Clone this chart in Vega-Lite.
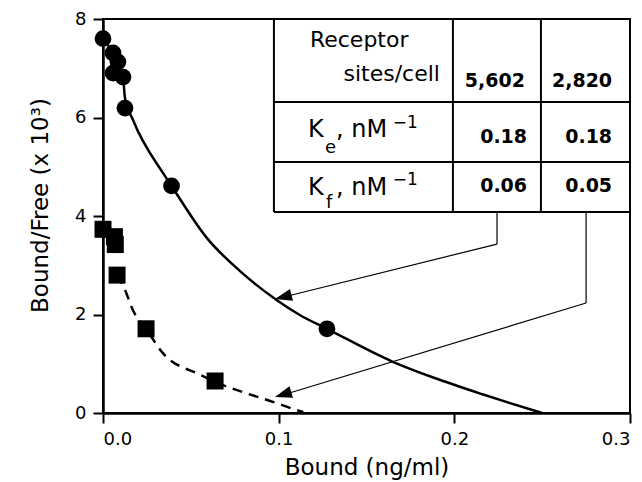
{
  "$schema": "https://vega.github.io/schema/vega-lite/v6.json",
  "width": 527,
  "height": 394,
  "autosize": {"type": "none"},
  "padding": {"left": 103, "top": 19, "right": 12, "bottom": 69},
  "background": "white",
  "config": {
    "view": {"stroke": "black", "strokeWidth": 2},
    "font": "DejaVu Sans",
    "axis": {
      "domainColor": "black", "domainWidth": 2.5,
      "tickColor": "black", "tickWidth": 2, "tickSize": 10,
      "labelFont": "DejaVu Sans", "labelFontSize": 18, "labelColor": "black",
      "titleFont": "DejaVu Sans", "titleFontSize": 23, "titleFontWeight": "normal", "titleColor": "black",
      "grid": false
    }
  },
  "datasets": {
    "circles": [
      {"bound": 0.0, "bf": 7.6},
      {"bound": 0.0057, "bf": 7.31},
      {"bound": 0.0085, "bf": 7.13},
      {"bound": 0.0057, "bf": 6.9},
      {"bound": 0.0114, "bf": 6.82},
      {"bound": 0.0125, "bf": 6.19},
      {"bound": 0.039, "bf": 4.61},
      {"bound": 0.1275, "bf": 1.71}
    ],
    "squares": [
      {"bound": 0.0, "bf": 3.73},
      {"bound": 0.0065, "bf": 3.58},
      {"bound": 0.007, "bf": 3.42},
      {"bound": 0.008, "bf": 2.8},
      {"bound": 0.0245, "bf": 1.71},
      {"bound": 0.0638, "bf": 0.65}
    ],
    "solidcurve": [
      {"bound": 0.0, "bf": 7.6},
      {"bound": 0.0057, "bf": 7.31},
      {"bound": 0.0114, "bf": 6.82},
      {"bound": 0.0125, "bf": 6.4},
      {"bound": 0.0171, "bf": 5.95},
      {"bound": 0.0342, "bf": 4.87},
      {"bound": 0.039, "bf": 4.61},
      {"bound": 0.0592, "bf": 3.55},
      {"bound": 0.079, "bf": 2.85},
      {"bound": 0.099, "bf": 2.29},
      {"bound": 0.112, "bf": 1.99},
      {"bound": 0.1275, "bf": 1.71},
      {"bound": 0.165, "bf": 1.04},
      {"bound": 0.188, "bf": 0.72},
      {"bound": 0.216, "bf": 0.38},
      {"bound": 0.23, "bf": 0.22},
      {"bound": 0.25, "bf": 0.0}
    ],
    "dashedcurve": [
      {"bound": 0.008, "bf": 2.8},
      {"bound": 0.0125, "bf": 2.5},
      {"bound": 0.017, "bf": 2.09},
      {"bound": 0.0245, "bf": 1.71},
      {"bound": 0.034, "bf": 1.22},
      {"bound": 0.055, "bf": 0.78},
      {"bound": 0.0638, "bf": 0.63},
      {"bound": 0.08, "bf": 0.42},
      {"bound": 0.099, "bf": 0.2},
      {"bound": 0.11, "bf": 0.06},
      {"bound": 0.114, "bf": 0.02}
    ],
    "lines": [
      {"x": 0.0973, "x2": 0.0973, "y": 8, "y2": 4.081},
      {"x": 0.1992, "x2": 0.1992, "y": 8, "y2": 4.081},
      {"x": 0.2493, "x2": 0.2493, "y": 8, "y2": 4.081},
      {"x": 0.0973, "x2": 0.3, "y": 6.315, "y2": 6.315},
      {"x": 0.0973, "x2": 0.3, "y": 5.097, "y2": 5.097},
      {"x": 0.0973, "x2": 0.3, "y": 4.081, "y2": 4.081}
    ],
    "arrowlines": [
      {"x": 0.2243, "x2": 0.2243, "y": 4.081, "y2": 3.43},
      {"x": 0.2243, "x2": 0.1, "y": 3.43, "y2": 2.33},
      {"x": 0.275, "x2": 0.275, "y": 4.081, "y2": 2.233},
      {"x": 0.275, "x2": 0.1, "y": 2.233, "y2": 0.34}
    ],
    "tip1": [{"x": 0.0979, "y": 2.315}],
    "tip2": [{"x": 0.0979, "y": 0.325}],
    "leftText": [
      {"label": "Receptor", "x": 0.1178, "y": 7.432}
    ],
    "rightText": [
      {"label": "sites/cell", "x": 0.1918, "y": 6.741}
    ],
    "numbers": [
      {"label": "5,602", "x": 0.2402, "y": 6.619},
      {"label": "2,820", "x": 0.2898, "y": 6.619},
      {"label": "0.18", "x": 0.2414, "y": 5.482},
      {"label": "0.18", "x": 0.2898, "y": 5.482},
      {"label": "0.06", "x": 0.2414, "y": 4.487},
      {"label": "0.05", "x": 0.2898, "y": 4.487}
    ],
    "kText": [
      {"label": "K", "x": 0.1167, "y": 5.604},
      {"label": ", nM", "x": 0.1327, "y": 5.604},
      {"label": "K", "x": 0.1167, "y": 4.426},
      {"label": ", nM", "x": 0.1327, "y": 4.426}
    ],
    "subText": [
      {"label": "e", "x": 0.1264, "y": 5.279},
      {"label": "f", "x": 0.1270, "y": 4.162}
    ],
    "supText": [
      {"label": "−1", "x": 0.1650, "y": 5.787},
      {"label": "−1", "x": 0.1650, "y": 4.629}
    ]
  },
  "layer": [
    {
      "data": {"name": "lines"},
      "mark": {"type": "rule", "color": "black", "strokeWidth": 2},
      "encoding": {
        "x": {"field": "x", "type": "quantitative", "scale": {"domain": [0, 0.3], "nice": false},
              "axis": {"values": [0, 0.1, 0.2, 0.3], "format": ".1f", "title": "Bound (ng/ml)", "labelFontSize": 18, "labelPadding": 7, "titlePadding": 8}},
        "x2": {"field": "x2"},
        "y": {"field": "y", "type": "quantitative", "scale": {"domain": [0, 8], "nice": false},
              "axis": {"values": [0, 2, 4, 6, 8], "format": "d", "title": "Bound/Free (x 10³)", "labelFontSize": 18, "labelPadding": 7, "titlePadding": 22, "titleY": 186}},
        "y2": {"field": "y2"}
      }
    },
    {
      "data": {"name": "arrowlines"},
      "mark": {"type": "rule", "color": "black", "strokeWidth": 1.2},
      "encoding": {
        "x": {"field": "x", "type": "quantitative"},
        "x2": {"field": "x2"},
        "y": {"field": "y", "type": "quantitative"},
        "y2": {"field": "y2"}
      }
    },
    {
      "data": {"name": "solidcurve"},
      "mark": {"type": "line", "color": "black", "strokeWidth": 2.5, "interpolate": "monotone"},
      "encoding": {
        "x": {"field": "bound", "type": "quantitative"},
        "y": {"field": "bf", "type": "quantitative"}
      }
    },
    {
      "data": {"name": "dashedcurve"},
      "mark": {"type": "line", "color": "black", "strokeWidth": 2.5, "strokeDash": [10, 7], "interpolate": "monotone"},
      "encoding": {
        "x": {"field": "bound", "type": "quantitative"},
        "y": {"field": "bf", "type": "quantitative"}
      }
    },
    {
      "data": {"name": "circles"},
      "mark": {"type": "point", "shape": "circle", "filled": true, "color": "black", "size": 280, "opacity": 1},
      "encoding": {
        "x": {"field": "bound", "type": "quantitative"},
        "y": {"field": "bf", "type": "quantitative"}
      }
    },
    {
      "data": {"name": "squares"},
      "mark": {"type": "point", "shape": "square", "filled": true, "color": "black", "size": 289, "opacity": 1},
      "encoding": {
        "x": {"field": "bound", "type": "quantitative"},
        "y": {"field": "bf", "type": "quantitative"}
      }
    },
    {
      "data": {"name": "tip1"},
      "mark": {"type": "point", "shape": "M0,0L0.6,1.7L-0.6,1.7Z", "filled": true, "color": "black", "size": 400, "opacity": 1, "angle": 256},
      "encoding": {
        "x": {"field": "x", "type": "quantitative"},
        "y": {"field": "y", "type": "quantitative"}
      }
    },
    {
      "data": {"name": "tip2"},
      "mark": {"type": "point", "shape": "M0,0L0.6,1.7L-0.6,1.7Z", "filled": true, "color": "black", "size": 400, "opacity": 1, "angle": 253},
      "encoding": {
        "x": {"field": "x", "type": "quantitative"},
        "y": {"field": "y", "type": "quantitative"}
      }
    },
    {
      "data": {"name": "leftText"},
      "mark": {"type": "text", "align": "left", "baseline": "alphabetic", "fontSize": 22, "font": "DejaVu Sans", "color": "black"},
      "encoding": {
        "x": {"field": "x", "type": "quantitative"},
        "y": {"field": "y", "type": "quantitative"},
        "text": {"field": "label"}
      }
    },
    {
      "data": {"name": "rightText"},
      "mark": {"type": "text", "align": "right", "baseline": "alphabetic", "fontSize": 22, "font": "DejaVu Sans", "color": "black"},
      "encoding": {
        "x": {"field": "x", "type": "quantitative"},
        "y": {"field": "y", "type": "quantitative"},
        "text": {"field": "label"}
      }
    },
    {
      "data": {"name": "numbers"},
      "mark": {"type": "text", "align": "right", "baseline": "alphabetic", "fontSize": 19, "fontWeight": "bold", "font": "DejaVu Sans", "color": "black"},
      "encoding": {
        "x": {"field": "x", "type": "quantitative"},
        "y": {"field": "y", "type": "quantitative"},
        "text": {"field": "label"}
      }
    },
    {
      "data": {"name": "kText"},
      "mark": {"type": "text", "align": "left", "baseline": "alphabetic", "fontSize": 24, "font": "DejaVu Sans", "color": "black"},
      "encoding": {
        "x": {"field": "x", "type": "quantitative"},
        "y": {"field": "y", "type": "quantitative"},
        "text": {"field": "label"}
      }
    },
    {
      "data": {"name": "subText"},
      "mark": {"type": "text", "align": "left", "baseline": "alphabetic", "fontSize": 18, "font": "DejaVu Sans", "color": "black"},
      "encoding": {
        "x": {"field": "x", "type": "quantitative"},
        "y": {"field": "y", "type": "quantitative"},
        "text": {"field": "label"}
      }
    },
    {
      "data": {"name": "supText"},
      "mark": {"type": "text", "align": "left", "baseline": "alphabetic", "fontSize": 17, "font": "DejaVu Sans", "color": "black"},
      "encoding": {
        "x": {"field": "x", "type": "quantitative"},
        "y": {"field": "y", "type": "quantitative"},
        "text": {"field": "label"}
      }
    }
  ]
}
